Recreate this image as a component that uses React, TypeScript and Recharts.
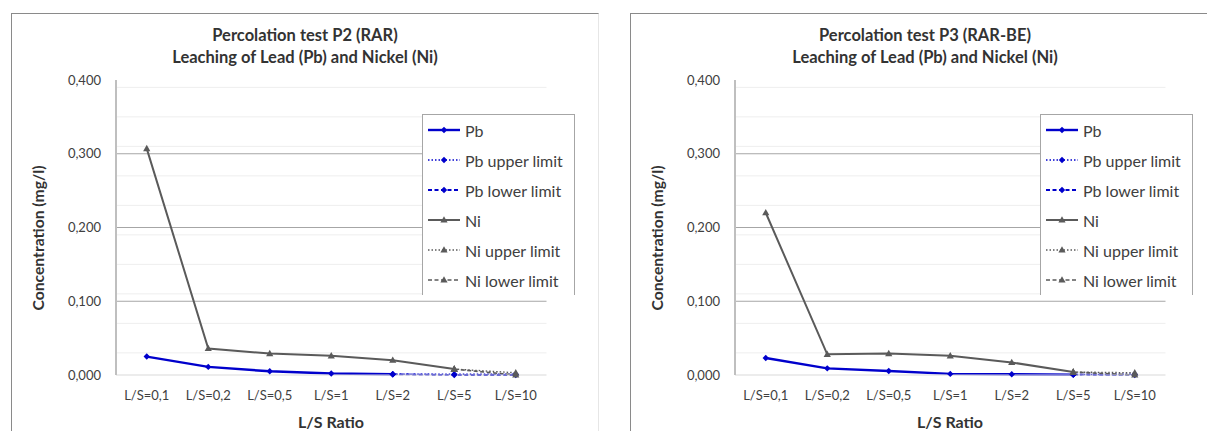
import { LineChart, Line, XAxis, YAxis, CartesianGrid } from 'recharts';

const categories = ['L/S=0,1', 'L/S=0,2', 'L/S=0,5', 'L/S=1', 'L/S=2', 'L/S=5', 'L/S=10'];
const yTicks = [0, 0.1, 0.2, 0.3, 0.4];
const majorGrid = [0.1, 0.2, 0.3];

// P2 (RAR)
const pbP2 = [0.025, 0.011, 0.005, 0.002, 0.001, null, null];
const pbUpperP2 = [null, null, null, null, 0.001, 0.001, 0.001];
const pbLowerP2 = [null, null, null, null, 0.001, 0.0, 0.0];
const niP2 = [0.307, 0.036, 0.029, 0.026, 0.02, 0.008, null];
const niUpperP2 = [null, null, null, null, null, 0.008, 0.003];
const niLowerP2 = [null, null, null, null, null, 0.008, 0.0];

// P3 (RAR-BE)
const pbP3 = [0.023, 0.009, 0.0055, 0.0015, 0.001, 0.0005, null];
const pbUpperP3 = [null, null, null, null, null, 0.0005, 0.001];
const pbLowerP3 = [null, null, null, null, null, 0.0005, 0.0];
const niP3 = [0.22, 0.028, 0.029, 0.026, 0.017, 0.004, null];
const niUpperP3 = [null, null, null, null, null, 0.004, 0.003];
const niLowerP3 = [null, null, null, null, null, 0.004, 0.0];

const PB = '#0000cc';
const NI = '#5a5a5a';
const FONT = 'Lato, "Open Sans", sans-serif';

const minorGrid: number[] = [];
for (let i = 1; i < 40; i++) {
  if (i % 10 !== 0) minorGrid.push(i / 100);
}

const series = [
  { key: 'pb', name: 'Pb', color: PB, dash: undefined, width: 2.4, marker: 'diamond' },
  { key: 'pbUpper', name: 'Pb upper limit', color: PB, dash: '1.5 2', width: 1.6, marker: 'diamond' },
  { key: 'pbLower', name: 'Pb lower limit', color: PB, dash: '4 2.5', width: 1.8, marker: 'diamond' },
  { key: 'ni', name: 'Ni', color: NI, dash: undefined, width: 2, marker: 'triangle' },
  { key: 'niUpper', name: 'Ni upper limit', color: NI, dash: '1.5 2', width: 1.4, marker: 'triangle' },
  { key: 'niLower', name: 'Ni lower limit', color: NI, dash: '4 2.5', width: 1.6, marker: 'triangle' },
];

function buildRows(pb, pbUpper, pbLower, ni, niUpper, niLower) {
  return categories.map((ls, i) => ({
    ls,
    pb: pb[i],
    pbUpper: pbUpper[i],
    pbLower: pbLower[i],
    ni: ni[i],
    niUpper: niUpper[i],
    niLower: niLower[i],
  }));
}

const rowsP2 = buildRows(pbP2, pbUpperP2, pbLowerP2, niP2, niUpperP2, niLowerP2);
const rowsP3 = buildRows(pbP3, pbUpperP3, pbLowerP3, niP3, niUpperP3, niLowerP3);

function Marker({ x, y, kind, color }) {
  if (kind === 'diamond') {
    return (
      <path
        d={`M${x},${y - 3.2}L${x + 3.2},${y}L${x},${y + 3.2}L${x - 3.2},${y}Z`}
        fill={color}
      />
    );
  }
  return <path d={`M${x},${y - 3.8}L${x + 3.6},${y + 2.6}L${x - 3.6},${y + 2.6}Z`} fill={color} />;
}

const makeDot = (kind: string, color: string) => (props: any) => {
  const { cx, cy, index, value } = props;
  if (cx == null || cy == null || value == null) return <g key={`d-${index}`} />;
  return (
    <g key={`d-${index}`}>
      <Marker x={cx} y={cy} kind={kind} color={color} />
    </g>
  );
};

function LegendBox({ left }) {
  return (
    <div
      style={{
        position: 'absolute',
        left,
        top: 101,
        width: 151,
        height: 180,
        background: '#fff',
        borderTop: '1px solid #a6a6a6',
        borderLeft: '1px solid #a6a6a6',
        borderRight: '1px solid #a6a6a6',
      }}
    >
      {series.map((s, i) => (
        <div
          key={s.key}
          style={{
            position: 'absolute',
            left: 0,
            top: 3 + i * 30,
            height: 24,
            display: 'flex',
            alignItems: 'center',
          }}
        >
          <svg width={38} height={12} style={{ marginLeft: 4 }}>
            <line
              x1={1}
              x2={33}
              y1={6}
              y2={6}
              stroke={s.color}
              strokeWidth={s.width}
              strokeDasharray={s.dash}
            />
            <Marker x={17} y={6} kind={s.marker} color={s.color} />
          </svg>
          <span style={{ fontSize: 16, color: '#404040', whiteSpace: 'nowrap' }}>{s.name}</span>
        </div>
      ))}
    </div>
  );
}

function Panel({ left, width, title, rows, legendLeft }) {
  const tick = { fontFamily: FONT, fontSize: 13, fill: '#404040' };
  return (
    <div style={{ position: 'absolute', left, top: 13, width, height: 430 }}>
      <div
        style={{
          position: 'absolute',
          inset: 0,
          borderTop: '1.5px solid #8a8a8a',
          borderLeft: '1.5px solid #8a8a8a',
          borderRight: '1px solid #e6e6e6',
        }}
      />
      <div
        style={{
          position: 'absolute',
          left: 0,
          top: 11,
          width,
          textAlign: 'center',
          fontSize: 16.5,
          fontWeight: 700,
          lineHeight: '22px',
          color: '#333333',
        }}
      >
        {title.map((t) => (
          <div key={t}>{t}</div>
        ))}
      </div>
      <div style={{ position: 'absolute', left: 0, top: 0 }}>
        <LineChart
          width={588}
          height={418}
          data={rows}
          margin={{ top: 67, right: 52.5, bottom: 26, left: 0 }}
        >
          <CartesianGrid
            horizontalValues={minorGrid}
            vertical={false}
            stroke="#eeeeee"
            strokeWidth={1}
          />
          <CartesianGrid
            horizontalValues={majorGrid}
            vertical={false}
            stroke="#a6a6a6"
            strokeWidth={1}
          />
          <XAxis
            dataKey="ls"
            scale="band"
            height={30}
            tickSize={0}
            tickMargin={16}
            tick={tick}
            interval={0}
            axisLine={{ stroke: '#d9d9d9', strokeWidth: 1 }}
            tickLine={false}
          />
          <YAxis
            width={105}
            domain={[0, 0.4]}
            ticks={yTicks}
            tickFormatter={(v: number) => v.toFixed(3).replace('.', ',')}
            tickSize={0}
            tickMargin={15}
            tick={tick}
            axisLine={{ stroke: '#bfbfbf', strokeWidth: 2 }}
            tickLine={false}
          />
          {series.map((s) => (
            <Line
              key={s.key}
              dataKey={s.key}
              name={s.name}
              type="linear"
              stroke={s.color}
              strokeWidth={s.width}
              strokeDasharray={s.dash}
              dot={makeDot(s.marker, s.color)}
              activeDot={false}
              isAnimationActive={false}
            />
          ))}
        </LineChart>
      </div>
      <div
        style={{
          position: 'absolute',
          left: 27,
          top: 225,
          transform: 'translate(-50%, -50%) rotate(-90deg)',
          fontSize: 15.7,
          fontWeight: 700,
          color: '#333333',
          whiteSpace: 'nowrap',
        }}
      >
        Concentration (mg/l)
      </div>
      <div
        style={{
          position: 'absolute',
          left: 320,
          top: 408,
          transform: 'translate(-50%, -50%)',
          fontSize: 16,
          fontWeight: 700,
          color: '#333333',
          whiteSpace: 'nowrap',
        }}
      >
        L/S Ratio
      </div>
      <LegendBox left={legendLeft} />
    </div>
  );
}

export default function App() {
  return (
    <div
      style={{
        position: 'fixed',
        left: 0,
        top: 0,
        width: 1207,
        height: 431,
        overflow: 'hidden',
        background: '#fff',
        fontFamily: FONT,
      }}
    >
      <Panel
        left={11}
        width={588}
        title={['Percolation test P2 (RAR)', 'Leaching of Lead (Pb) and Nickel (Ni)']}
        rows={rowsP2}
        legendLeft={411}
      />
      <Panel
        left={630}
        width={590}
        title={['Percolation test P3 (RAR-BE)', 'Leaching of Lead (Pb) and Nickel (Ni)']}
        rows={rowsP3}
        legendLeft={410}
      />
    </div>
  );
}
